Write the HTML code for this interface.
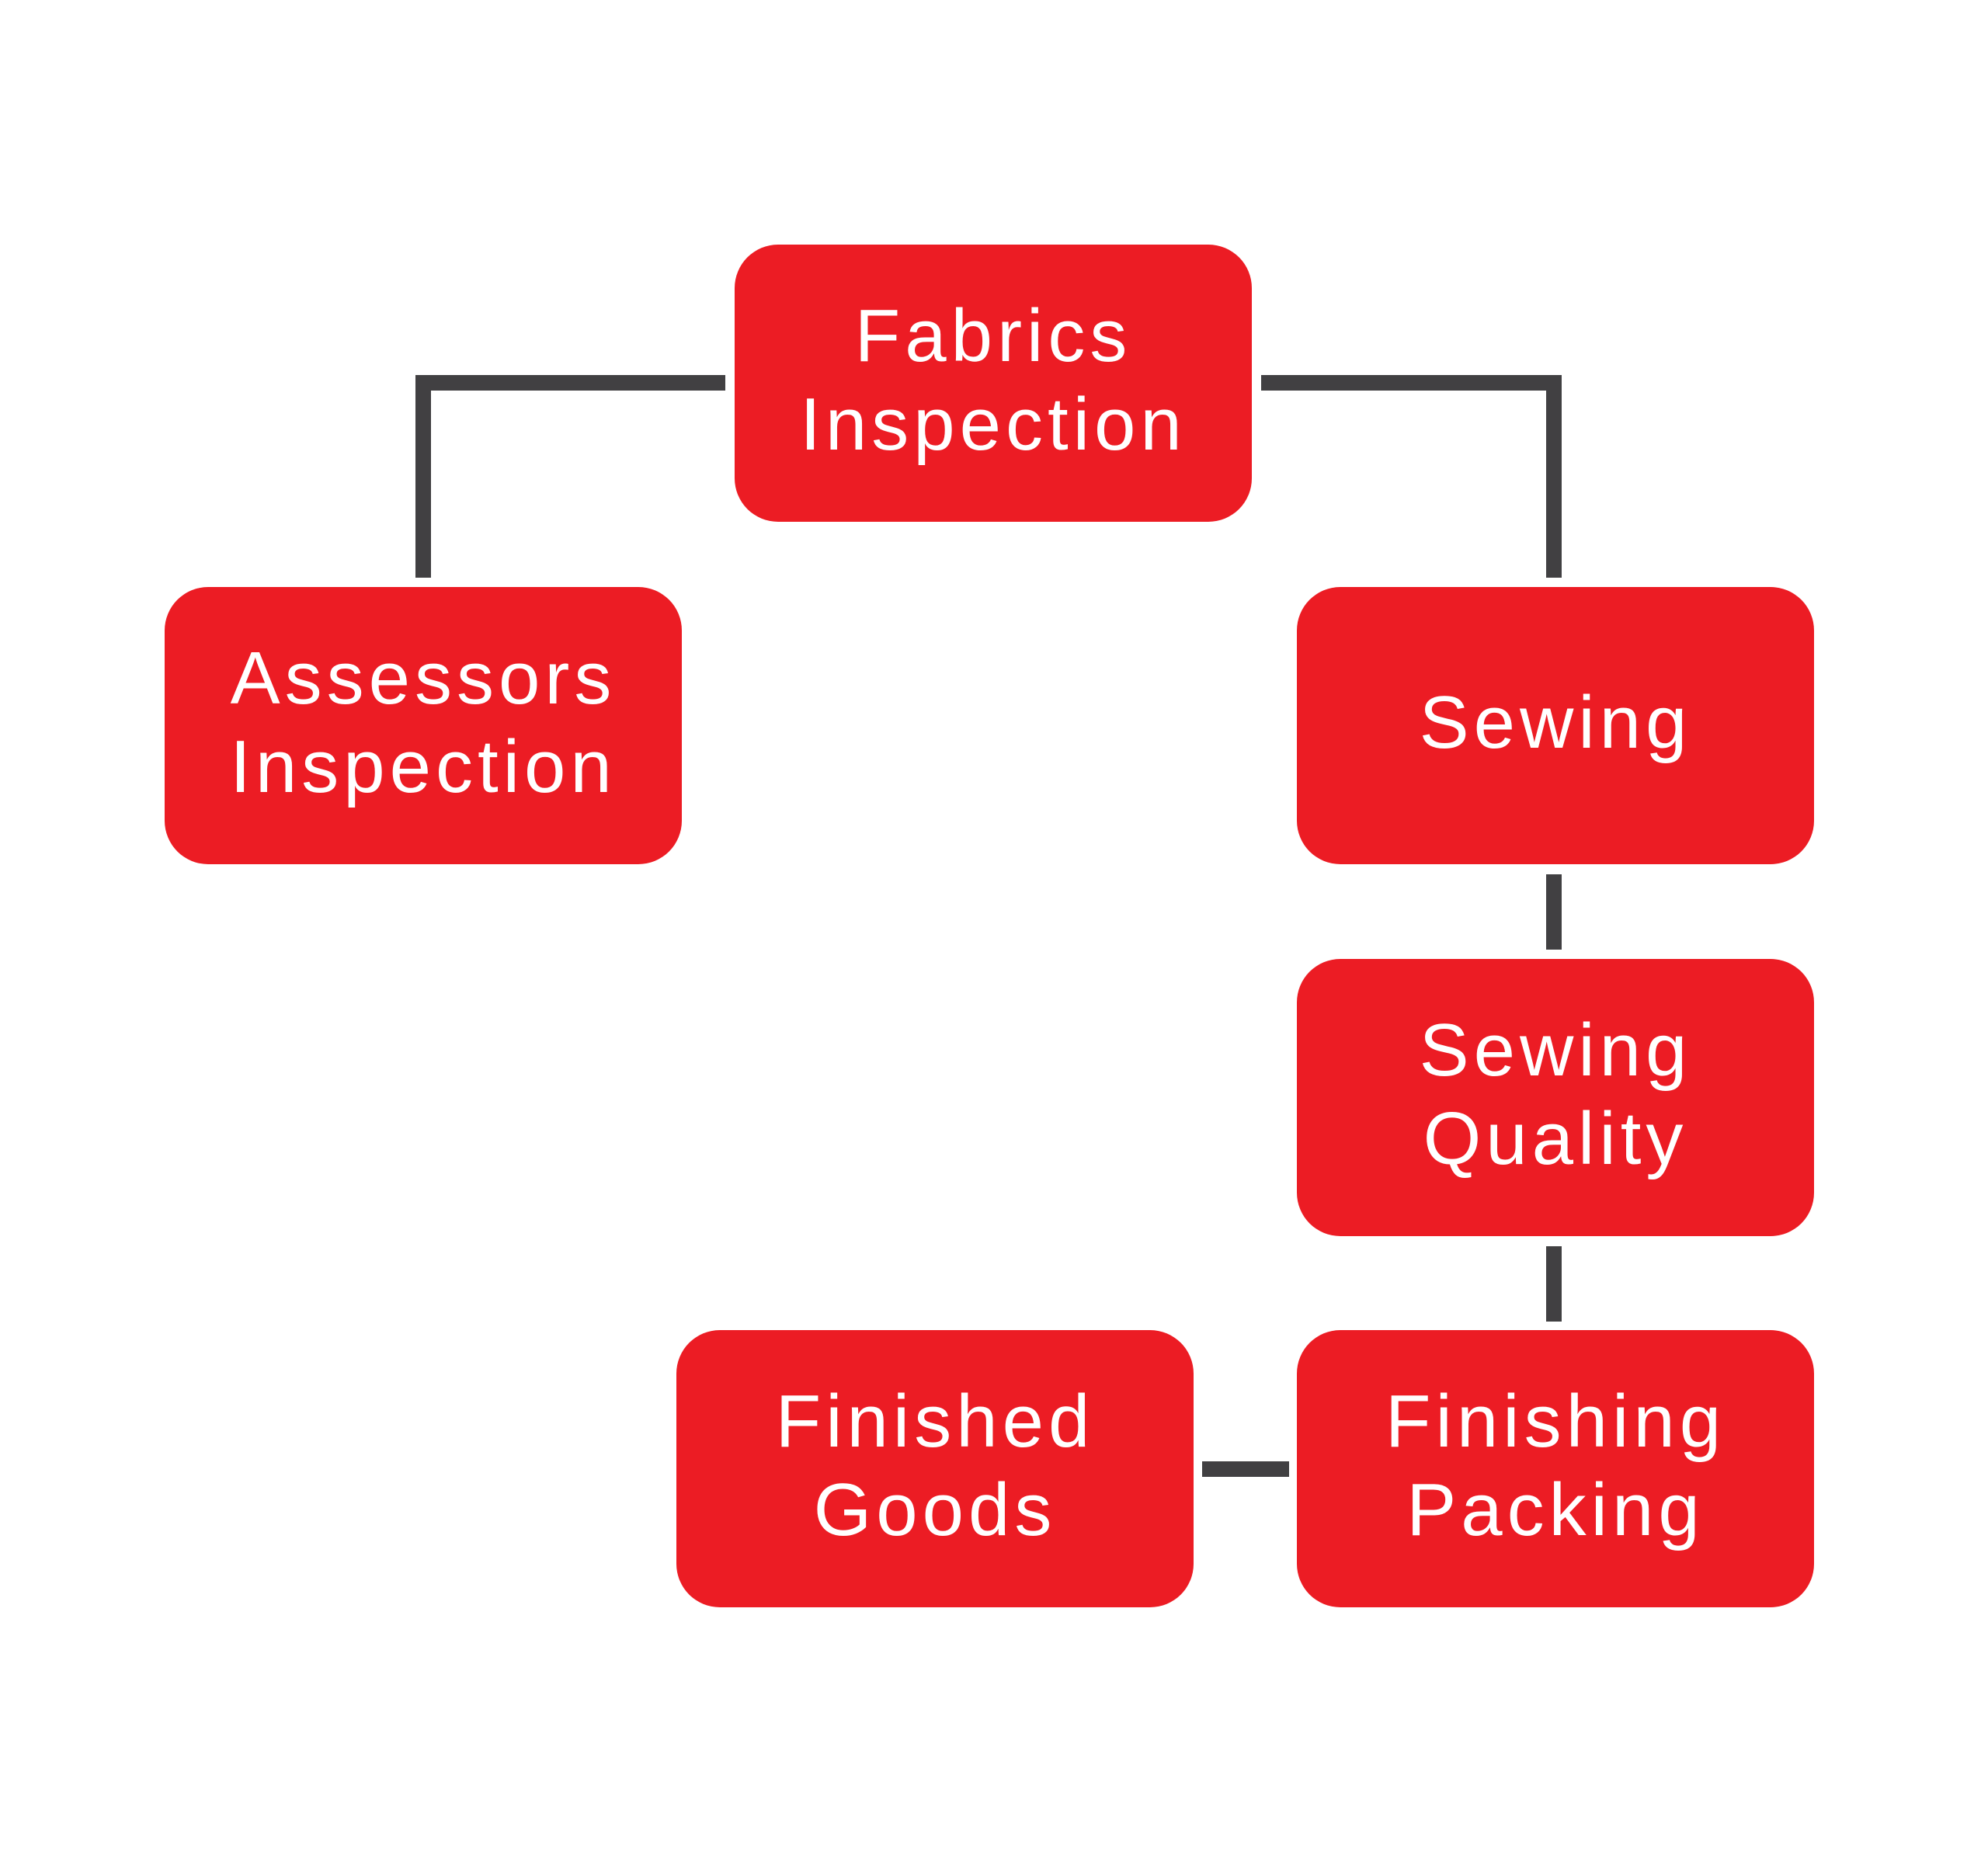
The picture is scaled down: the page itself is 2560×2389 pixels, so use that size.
<!DOCTYPE html>
<html><head><meta charset="utf-8"><style>
html,body{margin:0;padding:0;background:#fff;}
body{width:2560px;height:2389px;position:relative;overflow:hidden;font-family:"Liberation Sans",sans-serif;}
.b{position:absolute;width:666px;height:357px;background:#EC1C24;border-radius:56px;color:#fff;display:flex;align-items:center;justify-content:center;text-align:center;font-size:96px;line-height:114px;letter-spacing:6px;padding-bottom:8px;box-sizing:border-box;}
.l{position:absolute;background:#414042;}
</style></head><body>
<div class="b" style="left:946px;top:315px;">Fabrics<br>Inspection</div>
<div class="b" style="left:212px;top:756px;">Assessors<br>Inspection</div>
<div class="b" style="left:1670px;top:756px;">Sewing</div>
<div class="b" style="left:1670px;top:1235px;">Sewing<br>Quality</div>
<div class="b" style="left:1670px;top:1713px;">Finishing<br>Packing</div>
<div class="b" style="left:871px;top:1713px;">Finished<br>Goods</div>
<div class="l" style="left:535px;top:483px;width:399px;height:20px;"></div>
<div class="l" style="left:535px;top:483px;width:20px;height:261px;"></div>
<div class="l" style="left:1624px;top:483px;width:387px;height:20px;"></div>
<div class="l" style="left:1991px;top:483px;width:20px;height:261px;"></div>
<div class="l" style="left:1991px;top:1126px;width:20px;height:97px;"></div>
<div class="l" style="left:1991px;top:1605px;width:20px;height:97px;"></div>
<div class="l" style="left:1548px;top:1882px;width:112px;height:20px;"></div>
</body></html>
